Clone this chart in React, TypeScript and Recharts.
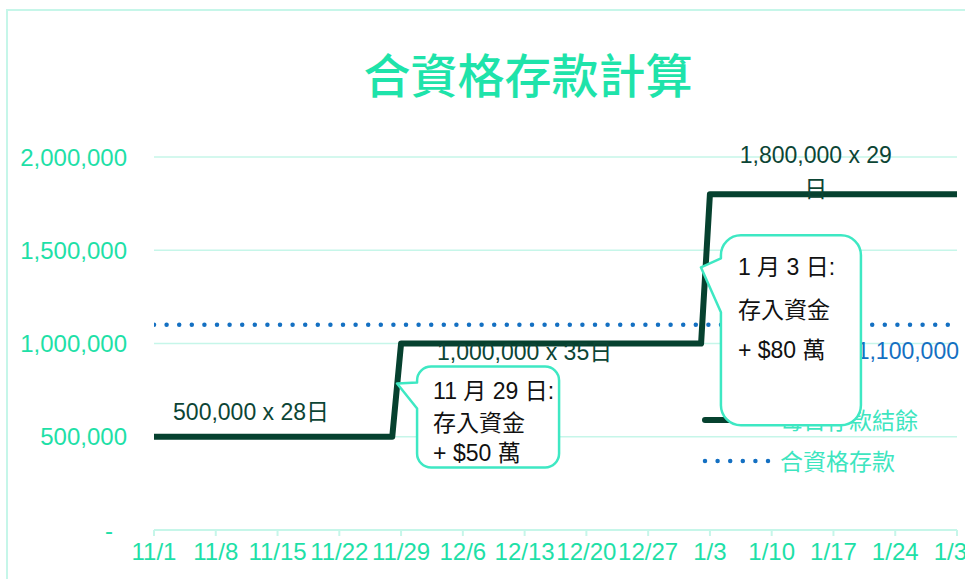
import React from 'react';
import { LineChart, Line, XAxis, YAxis, CartesianGrid, ReferenceDot, Legend } from 'recharts';

// ---------- data ----------
const xTickDays = [0, 7, 14, 21, 28, 35, 42, 49, 56, 63, 70, 77, 84, 91];
const xTickLabels = ['11/1', '11/8', '11/15', '11/22', '11/29', '12/6', '12/13', '12/20', '12/27', '1/3', '1/10', '1/17', '1/24', '1/31'];
const yTicks = [0, 500000, 1000000, 1500000, 2000000];

const seriesNames = ['每日存款結餘', '合資格存款'];
// day offsets from 11/1 where the daily balance changes
const balanceDays = [0, 27, 28, 62, 63, 91];
const balanceValues = [500000, 500000, 1000000, 1000000, 1800000, 1800000];
const qualifiedDays = [0, 91];
const qualifiedValues = [1100000, 1100000];

const segmentLabelLines = [['500,000 x 28日'], ['1,000,000 x 35日'], ['1,800,000 x 29', '日']];
const segmentLabelDays = [11, 42, 75];
const segmentLabelValues = [500000, 1000000, 1800000];

const qualifiedLabel = '1,100,000';

const calloutLines = [
  ['11 月 29 日:', '存入資金', '+ $50 萬'],
  ['1 月 3 日:', '存入資金', '+ $80 萬'],
];
const calloutDays = [28, 63];
const calloutValues = [1000000, 1800000];

const title = '合資格存款計算';

// ---------- built tables ----------
const balanceData = balanceDays.map((d, i) => ({ day: d, value: balanceValues[i] }));
const qualifiedData = qualifiedDays.map((d, i) => ({ day: d, value: qualifiedValues[i] }));

// ---------- styles ----------
const FONT = "'Liberation Sans', Arial, 'Noto Sans CJK TC', sans-serif";
const CJK = "'Noto Sans CJK TC', 'Liberation Sans', sans-serif";
const TEAL = '#1ee0a7';
const LEGEND_TEAL = '#3ee5bf';
const GRID = '#c6f6e9';
const DARK = '#06412f';
const DARK_TEXT = '#0c4535';
const BLUE = '#1470c2';
const CALLOUT = '#3ee8c3';

const segmentLabelOffsets = [[-17], [16], [-31, 3]];

const calloutLayouts = [
  { L: 16, T: 23, R: 158, B: 124, tipX: -4, tipY: 40, w1: 39, w2: 65, r: 14, tx: 32, ty: [55, 87, 117] },
  { L: 11, T: 41, R: 151, B: 231, tipX: -9, tipY: 73, w1: 64, w2: 118, r: 20, tx: 28, ty: [81, 124, 164] },
];

const YTick = (p: any) => {
  const v = p.payload.value;
  const label = v === 0 ? '-' : Number(v).toLocaleString('en-US');
  return (
    <text x={v === 0 ? p.x - 14 : p.x} y={p.y} dy="0.355em" textAnchor="end" fill={TEAL} fontSize={24} fontFamily={FONT}>
      {label}
    </text>
  );
};

const makeSegmentLabel = (i: number) => (p: any) => (
  <text textAnchor="middle" fill={DARK_TEXT} fontSize={23} fontFamily={FONT}>
    {segmentLabelLines[i].map((l, k) => (
      <tspan key={k} x={p.cx} y={p.cy + segmentLabelOffsets[i][k]}>
        {l}
      </tspan>
    ))}
  </text>
);

const qualifiedLabelShape = (p: any) => (
  <text x={p.cx + 2} y={p.cy + 34} textAnchor="end" fill={BLUE} fontSize={23} fontFamily={FONT}>
    {qualifiedLabel}
  </text>
);

const makeCallout = (i: number) => (p: any) => {
  const c = calloutLayouts[i];
  const x0 = p.cx;
  const y0 = p.cy;
  const L = x0 + c.L, T = y0 + c.T, R = x0 + c.R, B = y0 + c.B, r = c.r;
  const d = [
    `M ${L + r} ${T}`,
    `L ${R - r} ${T}`,
    `A ${r} ${r} 0 0 1 ${R} ${T + r}`,
    `L ${R} ${B - r}`,
    `A ${r} ${r} 0 0 1 ${R - r} ${B}`,
    `L ${L + r} ${B}`,
    `A ${r} ${r} 0 0 1 ${L} ${B - r}`,
    `L ${L} ${y0 + c.w2}`,
    `L ${x0 + c.tipX} ${y0 + c.tipY}`,
    `L ${L} ${y0 + c.w1}`,
    `L ${L} ${T + r}`,
    `A ${r} ${r} 0 0 1 ${L + r} ${T}`,
    'Z',
  ].join(' ');
  const clipId = `callout-clip-${i}`;
  return (
    <g>
      <defs>
        <clipPath id={clipId}>
          <rect x={L} y={T} width={R - L - 3} height={B - T} />
        </clipPath>
      </defs>
      <path d={d} fill="#ffffff" stroke={CALLOUT} strokeWidth={2.5} strokeLinejoin="round" />
      <text fill="#111111" fontSize={23} fontFamily={FONT} clipPath={`url(#${clipId})`}>
        {calloutLines[i].map((l, k) => (
          <tspan key={k} x={x0 + c.tx} y={y0 + c.ty[k]}>
            {l}
          </tspan>
        ))}
      </text>
    </g>
  );
};

const renderLegend = () => (
  <div style={{ fontFamily: CJK, fontSize: 23, color: LEGEND_TEAL }}>
    {seriesNames.map((name, i) => (
      <div key={name} style={{ display: 'flex', alignItems: 'center', height: 41 }}>
        <svg width={78} height={12} style={{ display: 'block' }}>
          {i === 0 ? (
            <line x1={3} y1={6} x2={60} y2={6} stroke={DARK} strokeWidth={6} strokeLinecap="round" />
          ) : (
            <line x1={3} y1={6} x2={67} y2={6} stroke={BLUE} strokeWidth={4.5} strokeDasharray="0 12.6" strokeLinecap="round" />
          )}
        </svg>
        <span style={{ lineHeight: '41px' }}>{name}</span>
      </div>
    ))}
  </div>
);

export default function App() {
  return (
    <div
      style={{
        position: 'fixed',
        left: 0,
        top: 0,
        width: 965,
        height: 579,
        overflow: 'hidden',
        background: '#ffffff',
        zIndex: 0,
      }}
    >
      <div
        style={{
          position: 'absolute',
          left: 6,
          top: 9,
          width: 1200,
          height: 1200,
          border: `2px solid ${GRID}`,
          boxSizing: 'border-box',
        }}
      />
      <div
        style={{
          position: 'absolute',
          left: 0,
          top: 49,
          width: 1056,
          textAlign: 'center',
          fontFamily: CJK,
          fontSize: 47,
          fontWeight: 500,
          lineHeight: '47px',
          color: '#1ee3aa',
          zIndex: 2,
        }}
      >
        {title}
      </div>
      <div style={{ position: 'absolute', left: 0, top: 0 }}>
        <LineChart width={1000} height={579} margin={{ top: 157, right: 43, left: 0, bottom: 19 }}>
          <CartesianGrid vertical={false} stroke={GRID} strokeWidth={1.6} />
          <XAxis
            type="number"
            dataKey="day"
            domain={[0, 91]}
            ticks={xTickDays}
            interval={0}
            height={30}
            allowDataOverflow
            tickFormatter={(v: number) => xTickLabels[xTickDays.indexOf(v)] ?? ''}
            tick={{ fill: TEAL, fontSize: 24, fontFamily: FONT }}
            tickSize={6}
            tickMargin={7}
            axisLine={{ stroke: GRID, strokeWidth: 2 }}
            tickLine={{ stroke: GRID, strokeWidth: 2 }}
          />
          <YAxis
            type="number"
            domain={[0, 2000000]}
            ticks={yTicks}
            interval={0}
            width={154}
            axisLine={false}
            tickLine={false}
            tickSize={6}
            tickMargin={21}
            tick={<YTick />}
          />
          <Legend
            layout="vertical"
            align="center"
            verticalAlign="middle"
            content={renderLegend}
            wrapperStyle={{ left: 702, top: 399, width: 260, zIndex: -1 }}
          />
          <Line
            data={qualifiedData}
            dataKey="value"
            name={seriesNames[1]}
            stroke={BLUE}
            strokeWidth={4.5}
            strokeDasharray="0 12.6"
            strokeLinecap="round"
            dot={false}
            activeDot={false}
            isAnimationActive={false}
          />
          <Line
            data={balanceData}
            dataKey="value"
            name={seriesNames[0]}
            type="linear"
            stroke={DARK}
            strokeWidth={6}
            strokeLinecap="round"
            strokeLinejoin="round"
            dot={false}
            activeDot={false}
            isAnimationActive={false}
          />
          {segmentLabelDays.map((d, i) => (
            <ReferenceDot key={`s${i}`} x={d} y={segmentLabelValues[i]} r={1} shape={makeSegmentLabel(i)} />
          ))}
          <ReferenceDot x={qualifiedDays[1]} y={qualifiedValues[1]} r={1} shape={qualifiedLabelShape} />
          {calloutDays.map((d, i) => (
            <ReferenceDot key={`c${i}`} x={d} y={calloutValues[i]} r={1} shape={makeCallout(i)} />
          ))}
        </LineChart>
      </div>
    </div>
  );
}
